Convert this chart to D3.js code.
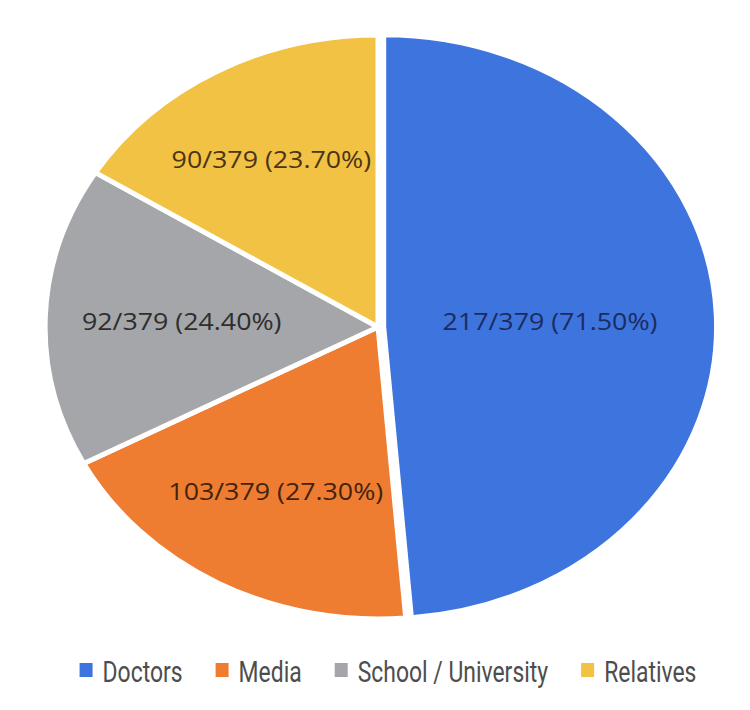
<!DOCTYPE html>
<html>
<head>
<meta charset="utf-8">
<script src="https://cdn.jsdelivr.net/npm/d3@7"></script>
<style>
  html, body { margin: 0; padding: 0; background: #ffffff; }
  svg { display: block; }
</style>
</head>
<body>
<svg id="chart" width="750" height="710"></svg>
<script>
// ---- data ----
const categories = ["Doctors", "Media", "School / University", "Relatives"];
const counts = [217, 103, 92, 90];
const totalRespondents = 379;
const percents = [71.50, 27.30, 24.40, 23.70];
const sliceColors = ["#3e74de", "#ee7d32", "#a4a6a9", "#f2c244"];
const labelColors = ["#1b2c60", "#43230f", "#2e2e2e", "#4a3514"];

// ---- layout ----
const W = 750, H = 710;
const cx = 378, cy = 327;
const R = 292;           // vertical radius
const xStretch = 1.14;   // horizontal stretch of the pie
const explode = 5;
const labelFactor = [0.50, 0.64, 0.59, 0.66];

const svg = d3.select("#chart");

const data = categories.map((c, i) => ({
  name: c, count: counts[i], pct: percents[i],
  color: sliceColors[i], labelColor: labelColors[i], idx: i
}));

const pie = d3.pie().value(d => d.pct).sort(null);
const arcs = pie(data);
const arc = d3.arc().innerRadius(0).outerRadius(R);

const g = svg.append("g")
  .attr("transform", `translate(${cx},${cy}) scale(${xStretch},1)`);

function offset(d) {
  if (d.data.idx !== 0) return [0, 0];
  const mid = (d.startAngle + d.endAngle) / 2;
  return [Math.sin(mid) * explode, -Math.cos(mid) * explode];
}

const slices = g.selectAll("g.slice").data(arcs).join("g")
  .attr("class", "slice")
  .attr("transform", d => { const o = offset(d); return `translate(${o[0]},${o[1]})`; });

slices.append("path")
  .attr("d", arc)
  .attr("fill", d => d.data.color)
  .attr("stroke", "#ffffff")
  .attr("stroke-width", 5)
  .attr("stroke-linejoin", "round")
  .attr("vector-effect", "non-scaling-stroke");

slices.append("text")
  .attr("transform", d => {
    const r = R * labelFactor[d.data.idx];
    const c = d3.arc().innerRadius(r).outerRadius(r).centroid(d);
    return `translate(${c[0]},${c[1]})`;
  })
  .attr("text-anchor", "middle")
  .attr("dominant-baseline", "central")
  .attr("font-family", "'Open Sans', 'Noto Sans', sans-serif")
  .attr("font-size", 23.5)
  .attr("fill", d => d.data.labelColor)
  .text(d => `${d.data.count}/${totalRespondents} (${d.data.pct.toFixed(2)}%)`);

// ---- legend ----
const legendY = 682;          // text baseline
const sw = 13, sh = 14;
const textGap = 10, itemGap = 33;
const squeeze = 0.79;
const legend = svg.append("g");

const items = legend.selectAll("g.item").data(data).join("g").attr("class", "item");
items.append("rect")
  .attr("width", sw).attr("height", sh)
  .attr("y", legendY - 19)
  .attr("fill", d => d.color);
const texts = items.append("text")
  .attr("y", legendY)
  .attr("font-family", "Roboto, 'Noto Sans', sans-serif")
  .attr("font-size", 29)
  .attr("fill", "#4d4d4d")
  .text(d => d.name);

const widths = [];
texts.each(function () {
  const w = this.getComputedTextLength() * squeeze;
  widths.push(w);
  d3.select(this).attr("textLength", w).attr("lengthAdjust", "spacingAndGlyphs");
});
let total = 0;
widths.forEach((w, i) => { total += sw + textGap + w + (i < widths.length - 1 ? itemGap : 0); });
let x = 388 - total / 2;
items.each(function (d, i) {
  const it = d3.select(this);
  it.select("rect").attr("x", x);
  it.select("text").attr("x", x + sw + textGap);
  x += sw + textGap + widths[i] + itemGap;
});
</script>
</body>
</html>
